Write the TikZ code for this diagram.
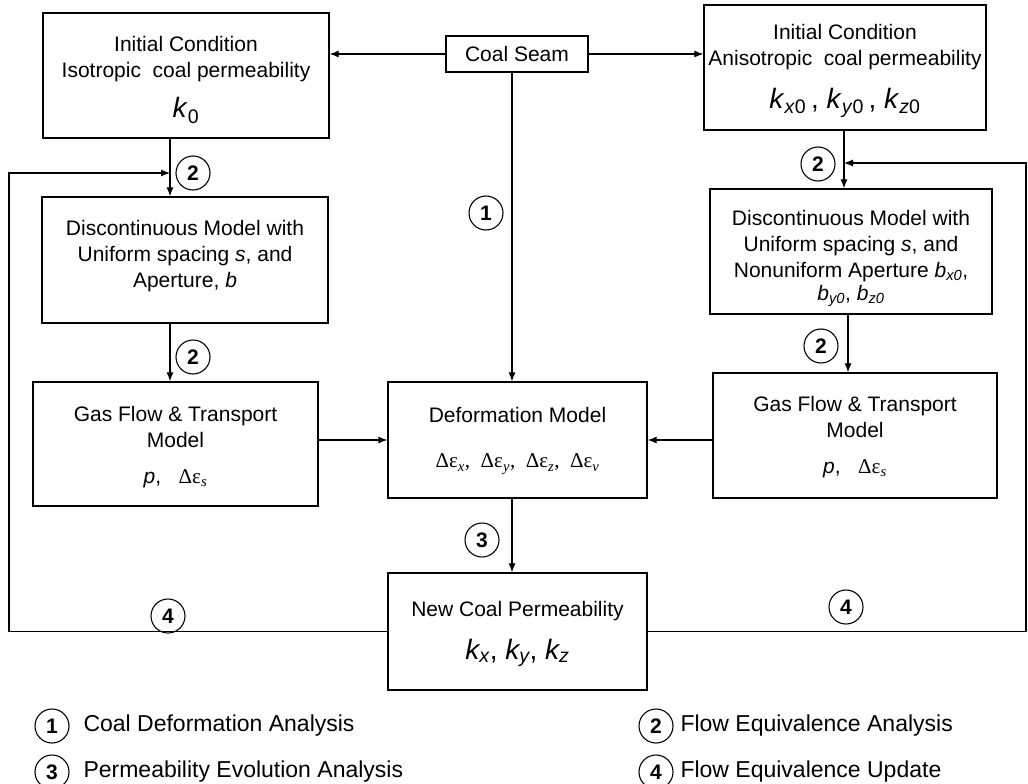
\documentclass[tikz,border=0pt]{standalone}
\usepackage{fontspec}
\setmainfont{Liberation Sans}
\newfontfamily\serif{Liberation Serif}
\usetikzlibrary{arrows.meta}
\begin{document}
\begin{tikzpicture}[x=1pt,y=-1pt,
 box/.style={draw, line width=1.3pt, inner sep=0pt},
 txt/.style={align=center, inner sep=0pt, font=\fontsize{21}{26}\selectfont},
 arr/.style={line width=1.1pt, -{Latex[length=9pt,width=7pt]}},
 num/.style={circle, draw, line width=1.1pt, minimum size=34pt, inner sep=0pt, font=\fontsize{21}{21}\selectfont\bfseries},
 leg/.style={anchor=west, font=\fontsize{23}{23}\selectfont}]
\useasboundingbox (0,0) rectangle (1028,784);
\fill[white] (0,0) rectangle (1028,784);

% boxes
\node[box, minimum width=286pt, minimum height=125pt] (A) at (186,75.5) {};
\node[txt] (At) at (186,80)
  {Initial Condition\\Isotropic\ \ coal permeability\\[14pt]{\fontsize{28}{30}\selectfont\textit{k}\textsubscript{0}}};
\node[box, minimum width=142pt, minimum height=36pt, font=\fontsize{21}{26}\selectfont] (S) at (517,54) {Coal Seam};
\node[box, minimum width=282pt, minimum height=125pt] (C) at (845,67.5) {};
\node[txt] (Ct) at (845,71)
  {Initial Condition\\Anisotropic\ \ coal permeability\\[17pt]{\fontsize{28}{30}\selectfont\textit{k}\textsubscript{\textit{x}0}\,, \textit{k}\textsubscript{\textit{y}0}\,, \textit{k}\textsubscript{\textit{z}0}}};
\node[box, minimum width=286pt, minimum height=126pt] (B) at (185,260) {};
\node[txt] (Bt) at (185,256)
  {Discontinuous Model with\\Uniform spacing \textit{s}, and\\Aperture, \textit{b}};
\node[box, minimum width=282pt, minimum height=125pt] (D) at (851,251.5) {};
\node[txt] (Dt) at (851,258)
  {Discontinuous Model with\\Uniform spacing \textit{s}, and\\Nonuniform Aperture \textit{b\textsubscript{x0}},\\[-3pt]\textit{b\textsubscript{y0}}, \textit{b\textsubscript{z0}}};
\node[box, minimum width=285pt, minimum height=124pt] (E) at (175.5,444) {};
\node[txt] (Et) at (175.5,447)
  {Gas Flow \& Transport\\Model\\[10pt]\textit{p},\ \ \ {\serif Δε\textsubscript{\textit{s}}}};
\node[box, minimum width=259pt, minimum height=116pt] (F) at (517.5,440) {};
\node[txt] (Ft) at (517.5,441)
  {Deformation Model\\[19pt]{\serif Δε\textsubscript{\textit{x}},\ \ Δε\textsubscript{\textit{y}},\ \ Δε\textsubscript{\textit{z}},\ \ Δε\textsubscript{\textit{v}}}};
\node[box, minimum width=284pt, minimum height=125pt] (G) at (855,435.5) {};
\node[txt] (Gt) at (855,437)
  {Gas Flow \& Transport\\Model\\[10pt]\textit{p},\ \ \ {\serif Δε\textsubscript{\textit{s}}}};
\node[box, minimum width=259pt, minimum height=117pt] (H) at (517.5,631.5) {};
\node[txt] (Ht) at (517.5,634)
  {New Coal Permeability\\[17pt]{\fontsize{28}{30}\selectfont\textit{k\textsubscript{x}}, \textit{k\textsubscript{y}}, \textit{k\textsubscript{z}}}};

% helper coordinates
\coordinate (c1) at (170,0);
\coordinate (cm) at (512,0);
\coordinate (c3) at (844,0);
\coordinate (c4) at (848,0);
\coordinate (lc) at (9,173);
\coordinate (rc) at (1026,163);

% connectors
\draw[arr] (S.west) -- (S.west -| A.east);
\draw[arr] (S.east) -- (S.east -| C.west);
\draw[arr] (S.south -| cm) -- (F.north -| cm);
\draw[arr] (A.south -| c1) -- (B.north -| c1);
\draw[arr] (B.south -| c1) -- (E.north -| c1);
\draw[arr] (C.south -| c3) -- (D.north -| c3);
\draw[arr] (D.south -| c4) -- (G.north -| c4);
\draw[arr] (E.east |- F.west) -- (F.west);
\draw[arr] (G.west |- F.east) -- (F.east);
\draw[arr] (F.south -| cm) -- (H.north -| cm);
\draw[arr] (H.west) -| (lc) -- (lc -| c1);
\draw[arr] (H.east) -| (rc) -- (rc -| c3);

% step numbers
\node[num] (n2a) at (193,173) {2};
\node[num] (n1) at (486,213) {1};
\node[num] (n2b) at (818,164) {2};
\node[num] (n2c) at (193,357) {2};
\node[num] (n2d) at (821,346) {2};
\node[num] (n3) at (482,540) {3};
\node[num] (n4a) at (168,616) {4};
\node[num] (n4b) at (846,607) {4};

% legend
\node[num] (l1) at (52,726) {1};
\node[leg] (t1) at (80,726) {Coal Deformation Analysis};
\node[num] (l3) at (52,772) {3};
\node[leg] (t3) at (80,772) {Permeability Evolution Analysis};
\node[num] (l2) at (656,726) {2};
\node[leg] (t2) at (677,726) {Flow Equivalence Analysis};
\node[num] (l4) at (656,772) {4};
\node[leg] (t4) at (677,772) {Flow Equivalence Update};
\end{tikzpicture}
\end{document}
